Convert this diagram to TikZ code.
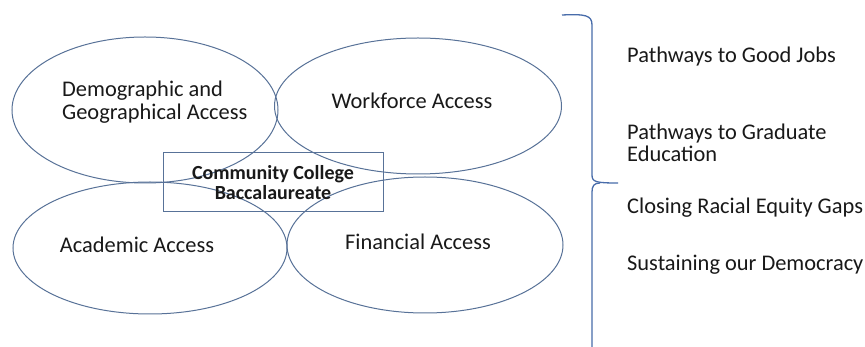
\documentclass[tikz,border=0pt]{standalone}
\usepackage{fontspec}
\setmainfont{Carlito}
\usetikzlibrary{shapes.geometric}
\definecolor{eline}{RGB}{88,114,152}
\definecolor{bline}{RGB}{72,108,170}
\definecolor{txt}{RGB}{25,25,25}
\begin{document}
\begin{tikzpicture}[x=1pt,y=-1pt,
  oval/.style={draw=eline, line width=1pt, ellipse, inner sep=0pt},
  lbl/.style={font=\fontsize{22.4}{22.5}\selectfont, text=txt, inner sep=0pt, align=left},
  boxstyle/.style={draw=eline, line width=1pt, inner sep=0pt, font=\bfseries\fontsize{20}{20.5}\selectfont, text=txt, align=center},
  bracestyle/.style={draw=bline, line width=1.3pt}
]
\useasboundingbox[fill=white] (0,0) rectangle (865,347);
% ellipses
\node[oval, minimum width=266pt, minimum height=146pt] (e1) at (145,110) {};
\node[oval, minimum width=287pt, minimum height=136pt] (e2) at (418,106) {};
\node[oval, minimum width=274pt, minimum height=132pt] (e3) at (150,248) {};
\node[oval, minimum width=276pt, minimum height=136pt] (e4) at (425,245) {};
% ellipse texts
\node[lbl, anchor=west] (t1) at (62,102) {Demographic and\\Geographical Access};
\node[lbl] (t2) at (412,101) {Workforce Access};
\node[lbl] (t3) at (137,245) {Academic Access};
\node[lbl] (t4) at (418,242) {Financial Access};
% center box
\node[boxstyle, minimum width=220pt, minimum height=59pt] (ccb) at (273,182.5) {Community College\\Baccalaureate};
% brace
\coordinate (b1) at (562,15);
\coordinate (b2) at (592,25);
\coordinate (b3) at (592,175);
\coordinate (tip) at (618,183);
\coordinate (b4) at (600,183);
\coordinate (b5) at (592,192);
\coordinate (b6) at (592,347);
\draw[bracestyle] (b1) .. controls (585,14) and (592,15) .. (b2) -- (b3) .. controls (592,182) and (596,183) .. (tip);
\draw[bracestyle] (b4) .. controls (594,183) and (592,186) .. (b5) -- (b6);
% outcome texts
\node[lbl, anchor=west] (o1) at (627,57) {Pathways to Good Jobs};
\node[lbl, anchor=west] (o2) at (627,143) {Pathways to Graduate\\Education};
\node[lbl, anchor=west] (o3) at (627,208) {Closing Racial Equity Gaps};
\node[lbl, anchor=west] (o4) at (627,265) {Sustaining our Democracy};
\end{tikzpicture}
\end{document}
